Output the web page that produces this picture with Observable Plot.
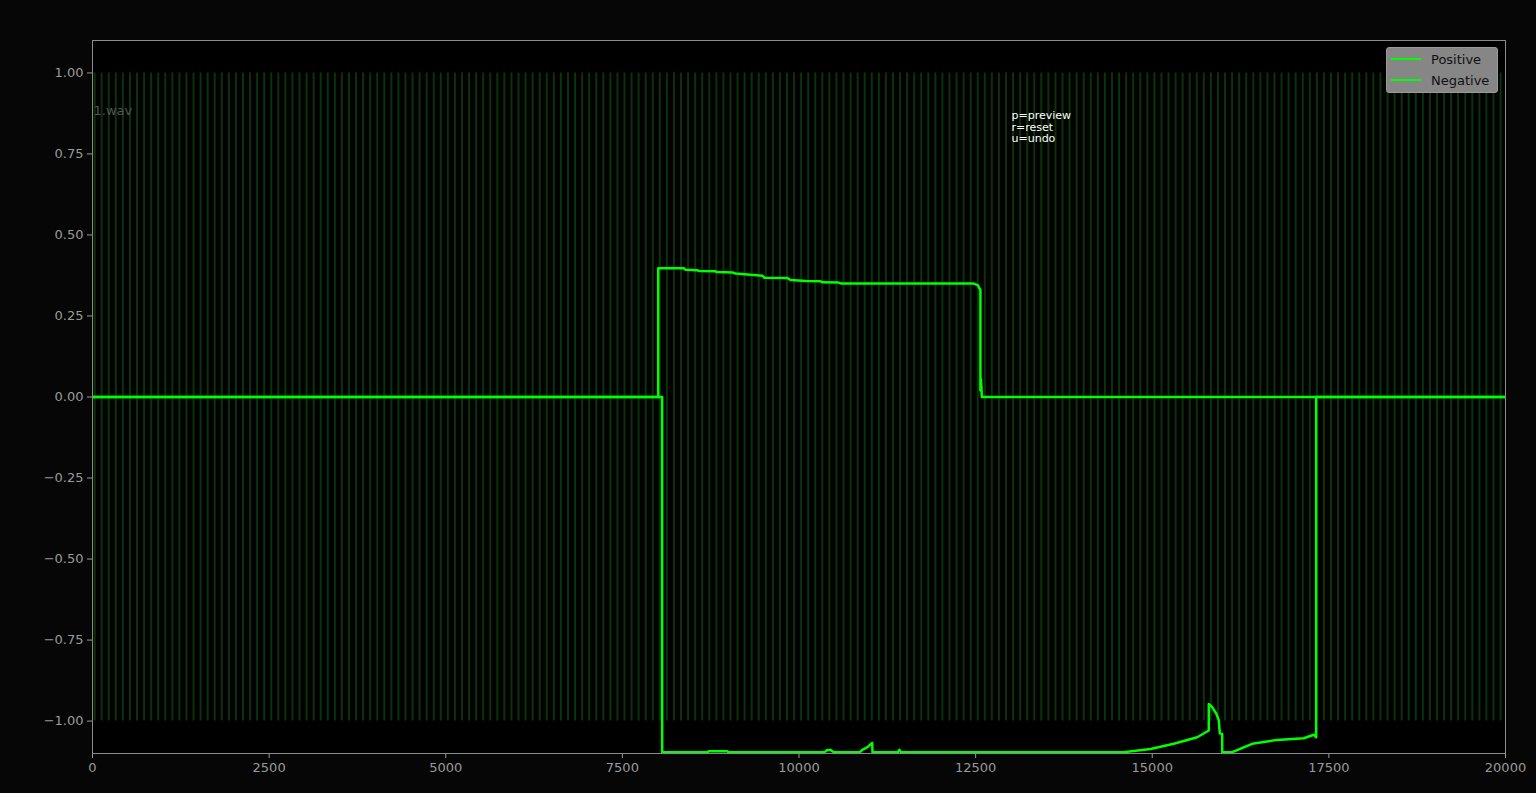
<!DOCTYPE html>
<html>
<head>
<meta charset="utf-8">
<script src="https://cdn.jsdelivr.net/npm/d3@7"></script>
<script src="https://cdn.jsdelivr.net/npm/@observablehq/plot@0.6"></script>
<style>
  html, body { margin: 0; padding: 0; background: #060606; }
  #wrap { position: relative; width: 1536px; height: 793px; overflow: hidden; }
  #legend {
    position: absolute; left: 1386px; top: 47px; width: 112px; height: 46px;
    background: #868686; border: 1px solid #9a9a9a; border-radius: 3px; box-sizing: border-box;
    font-family: "DejaVu Sans", sans-serif; font-size: 13px; color: #111;
  }
  .row { position: absolute; left: 4px; height: 20px; display: flex; align-items: center; }
  .sw { width: 30px; height: 0; border-top: 2px solid #00ff00; margin-right: 10px; }
</style>
</head>
<body>
<div id="wrap"></div>
<script>
// ---- data ----
const xTicks = [0, 2500, 5000, 7500, 10000, 12500, 15000, 17500, 20000];
const yTicks = [-1.0, -0.75, -0.5, -0.25, 0.0, 0.25, 0.5, 0.75, 1.0];

const positiveX = [0, 8007, 8007, 8370, 8394, 8564, 8580, 8818, 8830, 9059, 9100, 9483, 9511, 9837, 9880, 10100, 10304, 10333, 10560, 10600, 12470, 12530, 12568, 12568, 12575, 12582, 12588, 20000];
const positiveY = [0, 0, 0.397, 0.397, 0.393, 0.391, 0.389, 0.388, 0.386, 0.384, 0.381, 0.374, 0.368, 0.367, 0.361, 0.358, 0.357, 0.354, 0.353, 0.350, 0.350, 0.345, 0.33, 0.02, 0.055, 0.03, 0, 0];

const negativeX = [0, 8063, 8063, 8705, 8720, 8988, 9000, 10360, 10400, 10450, 10490, 10860, 10900, 10965, 11036, 11040, 11400, 11420, 11440, 14594, 14975, 15305, 15636, 15800, 15800, 15848, 15909, 15942, 15956, 15990, 15990, 16131, 16414, 16768, 17145, 17287, 17320, 17320, 20000];
const negativeY = [0, 0, -1.096, -1.096, -1.093, -1.093, -1.096, -1.096, -1.089, -1.089, -1.096, -1.096, -1.088, -1.081, -1.067, -1.096, -1.096, -1.089, -1.096, -1.096, -1.086, -1.070, -1.050, -1.029, -0.947, -0.957, -0.978, -0.998, -1.038, -1.040, -1.096, -1.096, -1.070, -1.058, -1.053, -1.042, -1.050, 0, 0];

// background waveform of "1.wav": periodic full-scale signal, one stroke per cycle
const wavePeriod = 100;    // samples per cycle
const waveOffset = 30;     // first stroke position (samples)
const waveAmplitude = 1.0;
const waveLength = 20000;

const positive = positiveX.map((x, i) => ({x, y: positiveY[i]}));
const negative = negativeX.map((x, i) => ({x, y: negativeY[i]}));
const wave = d3.range(waveOffset, waveLength, wavePeriod);

const fmt = d3.format(".2f");
const gray = "#9a9a9a";

const chart = Plot.plot({
  width: 1536,
  height: 793,
  marginLeft: 92,
  marginRight: 31,
  marginTop: 40,
  marginBottom: 40,
  x: {domain: [0, 20000]},
  y: {domain: [-1.1, 1.1]},
  style: {background: "#060606", fontFamily: "DejaVu Sans, sans-serif", fontSize: "13px", color: gray},
  marks: [
    Plot.frame({fill: "#000"}),
    Plot.ruleX(wave, {x: d => d, y1: -waveAmplitude, y2: waveAmplitude, stroke: "#0a330a", strokeWidth: 2, clip: true}),
    Plot.line(positive, {x: "x", y: "y", stroke: "#00ff00", strokeWidth: 2.5, strokeLinejoin: "round", clip: true}),
    Plot.line(negative, {x: "x", y: "y", stroke: "#00ff00", strokeWidth: 2.5, strokeLinejoin: "round", clip: true}),
    Plot.axisX({ticks: xTicks, tickFormat: d => String(d), tickSize: 5, tickPadding: 4, stroke: gray, fill: gray, label: null}),
    Plot.axisY({ticks: yTicks, tickFormat: fmt, tickSize: 5, tickPadding: 4, stroke: gray, fill: gray, label: null}),
    Plot.frame({stroke: "#8a8a8a", strokeWidth: 1}),
    Plot.text(["1.wav"], {frameAnchor: "top-left", dx: 1, dy: 65, fill: "#555555", fontSize: 13, textAnchor: "start"}),
    Plot.text(["p=preview\nr=reset\nu=undo"], {frameAnchor: "top-left", dx: 919, dy: 70, fill: "#ffffff", fontSize: 11, lineHeight: 1.07, textAnchor: "start", lineAnchor: "top"})
  ]
});

const wrap = document.getElementById("wrap");
wrap.appendChild(chart);
const legend = document.createElement("div");
legend.id = "legend";
legend.innerHTML = '<div class="row" style="top:1px"><div class="sw"></div><span>Positive</span></div>' +
                   '<div class="row" style="top:22px"><div class="sw" style="border-top-width:2.5px"></div><span>Negative</span></div>';
wrap.appendChild(legend);
</script>
</body>
</html>
